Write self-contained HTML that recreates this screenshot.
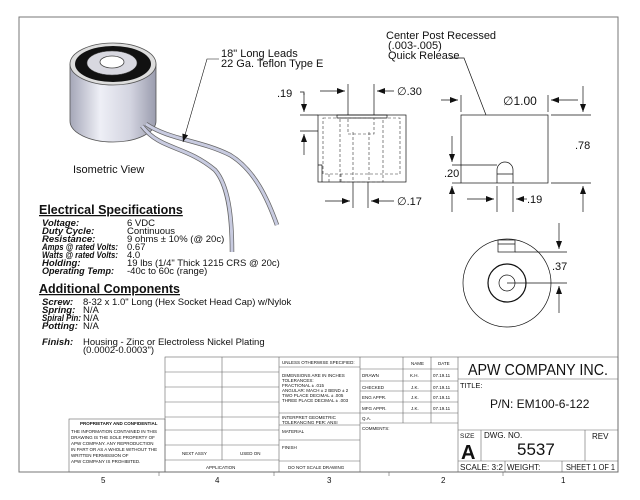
<!DOCTYPE html>
<html><head><meta charset="utf-8"><style>
html,body{margin:0;padding:0;background:#fff;}
body{width:640px;height:495px;overflow:hidden;font-family:"Liberation Sans",sans-serif;}
svg text{font-family:"Liberation Sans",sans-serif;fill:#111;}
</style></head><body>
<svg width="640" height="495" viewBox="0 0 640 495" xmlns="http://www.w3.org/2000/svg">
<defs>
<linearGradient id="cyl" x1="0" x2="1" y1="0" y2="0">
<stop offset="0" stop-color="#a5a7b8"/><stop offset="0.35" stop-color="#eeeff6"/><stop offset="0.7" stop-color="#d3d4e0"/><stop offset="1" stop-color="#9a9cae"/></linearGradient>
<marker id="ar" markerWidth="8" markerHeight="6" refX="8" refY="3" orient="auto" markerUnits="userSpaceOnUse"><path d="M0,0 L8,3 L0,6z" fill="#111"/></marker>
</defs>
<rect x="19" y="17" width="599" height="455" fill="none" stroke="#777" stroke-width="1"/>
<!-- isometric -->
<path d="M70,64 L70,121 A43,21 0 0 0 156,121 L156,64 Z" fill="url(#cyl)" stroke="#555" stroke-width="0.8"/>
<ellipse cx="113" cy="64" rx="43" ry="21" fill="#ddd" stroke="#555" stroke-width="0.8"/>
<ellipse cx="113" cy="64" rx="38" ry="18" fill="#111"/>
<ellipse cx="112" cy="63" rx="25" ry="12" fill="#d8d8e0" stroke="#555" stroke-width="0.5"/>
<ellipse cx="112" cy="62" rx="12" ry="6" fill="#fff" stroke="#444" stroke-width="0.8"/>
<path d="M142,126 C160,150 185,145 215,170 C228,185 232,215 232,252" fill="none" stroke="#666" stroke-width="4.5"/>
<path d="M142,126 C160,150 185,145 215,170 C228,185 232,215 232,252" fill="none" stroke="#c8cbe0" stroke-width="3"/>
<path d="M146,124 C170,140 200,140 230,155 C255,170 268,200 277,225" fill="none" stroke="#666" stroke-width="4.5"/>
<path d="M146,124 C170,140 200,140 230,155 C255,170 268,200 277,225" fill="none" stroke="#c8cbe0" stroke-width="3"/>
<polyline points="219,59 207,59 183,142" fill="none" stroke="#111" stroke-width="0.6" marker-end="url(#ar)"/>
<text x="221" y="57" font-size="11">18" Long Leads</text>
<text x="221" y="67" font-size="11">22 Ga. Teflon Type E</text>
<text x="73" y="173" font-size="11">Isometric View</text>
<!-- front view -->
<g stroke="#111" stroke-width="0.7" fill="none">
<rect x="318" y="115" width="88" height="67"/>
<rect x="337" y="115" width="50" height="3"/>
<line x1="300" y1="115" x2="318" y2="115"/><line x1="300" y1="131" x2="318" y2="131"/>
<line x1="304" y1="93" x2="304" y2="112" marker-end="url(#ar)"/>
<line x1="304" y1="155" x2="304" y2="134" marker-end="url(#ar)"/>
<polyline points="300,92 304,92 304,95"/>
<line x1="348" y1="84" x2="348" y2="115"/><line x1="374" y1="84" x2="374" y2="115"/>
<line x1="320" y1="91" x2="345" y2="91" marker-end="url(#ar)"/>
<line x1="394" y1="91" x2="377" y2="91" marker-end="url(#ar)"/>
<line x1="353" y1="182" x2="353" y2="208"/><line x1="368" y1="182" x2="368" y2="208"/>
<line x1="325" y1="201" x2="350" y2="201" marker-end="url(#ar)"/>
<line x1="394" y1="201" x2="371" y2="201" marker-end="url(#ar)"/>
<polyline points="318,165 322,165 322,182"/>
</g>
<g stroke="#333" stroke-width="0.6" fill="none" stroke-dasharray="3,2">
<rect x="323" y="118" width="77" height="56"/>
<rect x="340" y="118" width="43" height="64"/>
<rect x="348" y="118" width="26" height="16"/>
<line x1="353" y1="132" x2="353" y2="180"/><line x1="369" y1="132" x2="369" y2="180"/>
<line x1="329" y1="174" x2="329" y2="182"/><line x1="341" y1="174" x2="341" y2="182"/>
</g>
<text x="277" y="97" font-size="11">.19</text>
<text x="397" y="95" font-size="11">∅.30</text>
<text x="397" y="205" font-size="11">∅.17</text>
<!-- side view -->
<g stroke="#111" stroke-width="0.7" fill="none">
<rect x="461" y="115" width="87" height="68"/>
<path d="M497,183 L497,170 A8,8 0 0 1 513,170 L513,183 M497,174 L513,174"/>
<line x1="461" y1="95" x2="461" y2="112"/><line x1="548" y1="95" x2="548" y2="112"/>
<line x1="441" y1="100" x2="458" y2="100" marker-end="url(#ar)"/>
<line x1="578" y1="100" x2="551" y2="100" marker-end="url(#ar)"/>
<line x1="551" y1="115" x2="591" y2="115"/><line x1="551" y1="183" x2="591" y2="183"/>
<line x1="583" y1="86" x2="583" y2="112" marker-end="url(#ar)"/>
<line x1="583" y1="212" x2="583" y2="186" marker-end="url(#ar)"/>
<line x1="452" y1="165" x2="497" y2="165"/>
<line x1="452" y1="183" x2="461" y2="183"/>
<line x1="452" y1="136" x2="452" y2="162" marker-end="url(#ar)"/>
<line x1="452" y1="212" x2="452" y2="186" marker-end="url(#ar)"/>
<line x1="497" y1="186" x2="497" y2="212"/><line x1="513" y1="186" x2="513" y2="212"/>
<line x1="467" y1="199" x2="494" y2="199" marker-end="url(#ar)"/>
<line x1="527" y1="199" x2="516" y2="199" marker-end="url(#ar)"/>
<polyline points="450,58 464,58 486,115"/>
</g>
<text x="386" y="39" font-size="11">Center Post Recessed</text>
<text x="388" y="49" font-size="11">(.003-.005)</text>
<text x="388" y="59" font-size="11">Quick Release</text>
<text x="503" y="105" font-size="12">∅1.00</text>
<text x="575" y="149" font-size="11">.78</text>
<text x="444" y="177" font-size="11">.20</text>
<text x="527" y="203" font-size="11">.19</text>
<!-- bottom view -->
<g stroke="#111" stroke-width="0.7" fill="none">
<circle cx="507" cy="283" r="44"/>
<circle cx="507" cy="283" r="19" stroke-width="1.2"/>
<circle cx="507" cy="283" r="8"/>
<rect x="498" y="240" width="17" height="12"/><line x1="498" y1="244" x2="515" y2="244"/>
<line x1="515" y1="252" x2="567" y2="252"/><line x1="507" y1="283" x2="567" y2="283"/>
<line x1="559" y1="223" x2="559" y2="249" marker-end="url(#ar)"/>
<line x1="559" y1="313" x2="559" y2="286" marker-end="url(#ar)"/>
</g>
<text x="552" y="270" font-size="11">.37</text>
<!-- specs -->
<text x="39" y="214" font-size="12.5" font-weight="bold" text-decoration="underline">Electrical Specifications</text>
<g font-size="9.5">
<text x="42" y="226" font-weight="bold" font-style="italic">Voltage:</text><text x="127" y="226">6 VDC</text>
<text x="42" y="234" font-weight="bold" font-style="italic">Duty Cycle:</text><text x="127" y="234">Continuous</text>
<text x="42" y="242" font-weight="bold" font-style="italic">Resistance:</text><text x="127" y="242">9 ohms ± 10% (@ 20c)</text>
<text x="42" y="250" font-weight="bold" font-style="italic" textLength="76" lengthAdjust="spacingAndGlyphs">Amps @ rated Volts:</text><text x="127" y="250">0.67</text>
<text x="42" y="258" font-weight="bold" font-style="italic" textLength="76" lengthAdjust="spacingAndGlyphs">Watts @ rated Volts:</text><text x="127" y="258">4.0</text>
<text x="42" y="266" font-weight="bold" font-style="italic">Holding:</text><text x="127" y="266">19 lbs (1/4" Thick 1215 CRS @ 20c)</text>
<text x="42" y="274" font-weight="bold" font-style="italic" textLength="72" lengthAdjust="spacingAndGlyphs">Operating Temp:</text><text x="127" y="274">-40c to 60c (range)</text>
</g>
<text x="39" y="293" font-size="12.5" font-weight="bold" text-decoration="underline">Additional Components</text>
<g font-size="9.5">
<text x="42" y="305" font-weight="bold" font-style="italic">Screw:</text><text x="83" y="305">8-32 x 1.0" Long (Hex Socket Head Cap) w/Nylok</text>
<text x="42" y="313" font-weight="bold" font-style="italic">Spring:</text><text x="83" y="313">N/A</text>
<text x="42" y="321" font-weight="bold" font-style="italic" textLength="39" lengthAdjust="spacingAndGlyphs">Spiral Pin:</text><text x="83" y="321">N/A</text>
<text x="42" y="329" font-weight="bold" font-style="italic">Potting:</text><text x="83" y="329">N/A</text>
<text x="42" y="345" font-weight="bold" font-style="italic">Finish:</text><text x="83" y="345">Housing - Zinc or Electroless Nickel Plating</text>
<text x="83" y="353">(0.0002-0.0003")</text>
</g>
<!-- title block -->
<g stroke="#666" stroke-width="0.6" fill="none">
<rect x="165" y="357" width="453" height="115"/>
<line x1="222" y1="357" x2="222" y2="460"/>
<line x1="279" y1="357" x2="279" y2="472"/>
<line x1="165" y1="372" x2="279" y2="372"/><line x1="165" y1="387" x2="279" y2="387"/>
<line x1="165" y1="402" x2="279" y2="402"/><line x1="165" y1="417" x2="279" y2="417"/>
<line x1="165" y1="430" x2="279" y2="430"/><line x1="165" y1="445" x2="279" y2="445"/>
<line x1="165" y1="460" x2="279" y2="460"/>
<rect x="69" y="419" width="96" height="53"/>
<line x1="279" y1="367" x2="360" y2="367"/><line x1="279" y1="413" x2="360" y2="413"/>
<line x1="279" y1="425" x2="360" y2="425"/><line x1="279" y1="440" x2="360" y2="440"/>
<line x1="279" y1="461" x2="360" y2="461"/>
<line x1="360" y1="357" x2="360" y2="472"/>
<line x1="403" y1="357" x2="403" y2="423"/><line x1="431" y1="357" x2="431" y2="423"/>
<line x1="458" y1="357" x2="458" y2="472"/>
<line x1="360" y1="369" x2="458" y2="369"/><line x1="360" y1="381" x2="458" y2="381"/>
<line x1="360" y1="391" x2="458" y2="391"/><line x1="360" y1="402" x2="458" y2="402"/>
<line x1="360" y1="413" x2="458" y2="413"/><line x1="360" y1="423" x2="458" y2="423"/>
<line x1="458" y1="379" x2="618" y2="379"/><line x1="458" y1="430" x2="618" y2="430"/>
<line x1="458" y1="461" x2="618" y2="461"/>
<line x1="481" y1="430" x2="481" y2="461"/><line x1="585" y1="430" x2="585" y2="461"/>
<line x1="505" y1="461" x2="505" y2="472"/><line x1="562" y1="461" x2="562" y2="472"/>
</g>
<g font-size="4.5">
<text x="80" y="425" font-weight="bold">PROPRIETARY AND CONFIDENTIAL</text>
<text x="71" y="433">THE INFORMATION CONTAINED IN THIS</text>
<text x="71" y="439">DRAWING IS THE SOLE PROPERTY OF</text>
<text x="71" y="445">APW COMPANY.  ANY  REPRODUCTION</text>
<text x="71" y="451">IN PART OR AS A WHOLE WITHOUT THE</text>
<text x="71" y="457">WRITTEN PERMISSION OF</text>
<text x="71" y="463">APW COMPANY IS PROHIBITED.</text>
<text x="182" y="455">NEXT ASSY</text><text x="240" y="455">USED ON</text>
<text x="206" y="469">APPLICATION</text>
<text x="282" y="364">UNLESS OTHERWISE SPECIFIED:</text>
<text x="282" y="377">DIMENSIONS ARE IN INCHES</text>
<text x="282" y="382">TOLERANCES:</text>
<text x="282" y="387">FRACTIONAL ± .015</text>
<text x="282" y="392">ANGULAR: MACH ± 2    BEND ± 2</text>
<text x="282" y="397">TWO PLACE DECIMAL    ± .005</text>
<text x="282" y="402">THREE PLACE DECIMAL  ± .003</text>
<text x="282" y="419">INTERPRET GEOMETRIC</text>
<text x="282" y="424">TOLERANCING PER: ANSI</text>
<text x="282" y="433">MATERIAL</text>
<text x="282" y="449">FINISH</text>
<text x="288" y="469">DO NOT SCALE DRAWING</text>
<text x="411" y="365">NAME</text><text x="438" y="365">DATE</text>
<text x="362" y="377">DRAWN</text><text x="410" y="377">K.H.</text><text x="433" y="377">07.19.11</text>
<text x="362" y="389">CHECKED</text><text x="411" y="389">J.K.</text><text x="433" y="389">07.19.11</text>
<text x="362" y="399">ENG APPR.</text><text x="411" y="399">J.K.</text><text x="433" y="399">07.19.11</text>
<text x="362" y="410">MFG APPR.</text><text x="411" y="410">J.K.</text><text x="433" y="410">07.19.11</text>
<text x="362" y="420">Q.A.</text>
<text x="362" y="430">COMMENTS:</text>
</g>
<text x="468" y="375" font-size="16" textLength="140" lengthAdjust="spacingAndGlyphs">APW COMPANY INC.</text>
<text x="460" y="388" font-size="7.5">TITLE:</text>
<text x="490" y="408" font-size="12">P/N: EM100-6-122</text>
<text x="460" y="438" font-size="6.5">SIZE</text>
<text x="461" y="459" font-size="20" font-weight="bold">A</text>
<text x="484" y="438" font-size="8">DWG.  NO.</text>
<text x="517" y="455" font-size="17">5537</text>
<text x="592" y="439" font-size="8">REV</text>
<text x="460" y="470" font-size="8" textLength="43" lengthAdjust="spacingAndGlyphs">SCALE: 3:2</text>
<text x="507" y="470" font-size="8">WEIGHT:</text>
<text x="566" y="470" font-size="8" textLength="49" lengthAdjust="spacingAndGlyphs">SHEET 1 OF 1</text>
<g font-size="8" fill="#111">
<text x="101" y="483">5</text><text x="215" y="483">4</text><text x="327" y="483">3</text><text x="441" y="483">2</text><text x="561" y="483">1</text>
</g>
<g stroke="#666" stroke-width="0.6"><line x1="159" y1="472" x2="159" y2="476"/><line x1="274" y1="472" x2="274" y2="476"/><line x1="389" y1="472" x2="389" y2="476"/><line x1="503" y1="472" x2="503" y2="476"/></g>
</svg>
</body></html>
